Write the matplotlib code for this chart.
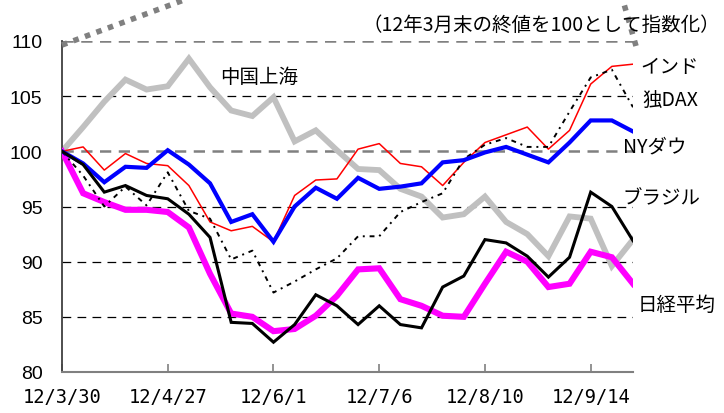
import matplotlib
matplotlib.use("Agg")
import matplotlib.pyplot as plt
from matplotlib.lines import Line2D

plt.rcParams['font.family'] = ['Noto Sans CJK JP', 'DejaVu Sans']

tick_labels = ["12/3/30", "12/4/27", "12/6/1", "12/7/6", "12/8/10", "12/9/14"]
tick_index = [0, 5, 10, 15, 20, 25]

china = [100, 102.2, 104.5, 106.5, 105.6, 105.9, 108.4, 105.8, 103.7, 103.2, 104.9, 100.9,
         101.9, 100.1, 98.4, 98.3, 96.6, 95.9, 94.0, 94.3, 95.9, 93.6, 92.5, 90.5, 94.1, 93.9,
         89.6, 92.0]
nydow = [100, 98.9, 97.2, 98.6, 98.5, 100.1, 98.8, 97.1, 93.6, 94.3, 91.8, 95.0, 96.7,
         95.7, 97.6, 96.6, 96.8, 97.1, 99.0, 99.2, 99.9, 100.4, 99.7, 99.0, 100.8, 102.8,
         102.8, 101.8]
india = [100, 100.4, 98.3, 99.8, 98.9, 98.7, 96.9, 93.6, 92.8, 93.2, 91.8, 96.0, 97.4, 97.5,
         100.2, 100.7, 98.9, 98.6, 96.9, 99.0, 100.8, 101.5, 102.2, 100.2, 101.9, 106.1,
         107.7, 107.9]
dax = [100, 97.8, 95.0, 96.8, 95.1, 98.1, 94.6, 93.9, 90.2, 91.0, 87.2, 88.2, 89.3, 90.3,
       92.3, 92.3, 94.5, 95.4, 96.2, 99.3, 100.6, 101.2, 100.4, 100.4, 103.6, 106.7, 107.4,
       104.0]
brazil = [100, 98.8, 96.3, 96.9, 96.0, 95.7, 94.3, 92.2, 84.5, 84.4, 82.7, 84.3, 87.0, 86.0,
          84.3, 86.0, 84.3, 84.0, 87.7, 88.7, 92.0, 91.7, 90.5, 88.6, 90.4, 96.3, 95.0, 91.9]
nikkei = [100, 96.2, 95.4, 94.7, 94.7, 94.5, 93.1, 88.9, 85.3, 85.0, 83.7, 83.9, 85.1, 86.9,
          89.3, 89.4, 86.6, 86.0, 85.1, 85.0, 88.0, 90.9, 90.0, 87.7, 88.0, 90.9, 90.4, 88.0]

W, H = 724, 414
fig = plt.figure(figsize=(W / 100, H / 100), dpi=100)
ax = fig.add_axes([62 / W, (H - 373) / H, (633 - 62) / W, (373 - 42) / H])

x = list(range(len(china)))

for yv in [85, 90, 95, 105]:
    ax.axhline(yv, color='black', lw=0.9, dashes=(7, 5), zorder=1)
for yv in [100, 110]:
    ax.axhline(yv, color='#808080', lw=1.8, dashes=(4.5, 3), zorder=1)

ax.plot(x, china, color='#C0C0C0', lw=4.2, zorder=2, solid_joinstyle='miter')
ax.plot(x, nikkei, color='#FF00FF', lw=4.4, zorder=3, solid_joinstyle='miter')
ax.plot(x, india, color='#FF0000', lw=1.1, zorder=4)
ax.plot(x, dax, color='black', lw=1.4, dashes=(2.5, 2.5, 1, 2.5), zorder=5)
ax.plot(x, nydow, color='#0000FF', lw=3.0, zorder=6, solid_joinstyle='miter')
ax.plot(x, brazil, color='black', lw=2.2, zorder=7, solid_joinstyle='miter')

ax.set_xlim(0, len(china) - 1)
ax.set_ylim(80, 110)
ax.set_yticks([80, 85, 90, 95, 100, 105, 110])
ax.set_xticks(tick_index)
ax.set_xticklabels(tick_labels, family='DejaVu Sans Mono', fontsize=13.5)
ax.tick_params(axis='y', length=0, pad=14, labelsize=14)
ax.tick_params(axis='x', direction='in', length=6, color='#808080', width=1.2,
               pad=11)
for lab in ax.get_yticklabels():
    lab.set_family(['Liberation Sans', 'DejaVu Sans'])
for s in ['top', 'right']:
    ax.spines[s].set_visible(False)
ax.spines['left'].set_color('#404040')
ax.spines['left'].set_linewidth(1.3)
ax.spines['bottom'].set_color('#808080')
ax.spines['bottom'].set_linewidth(1.5)

def fx(px):
    return px / W

def fy(py):
    return (H - py) / H

# dotted callout lines
fig.add_artist(Line2D([fx(62), fx(192)], [fy(46), fy(-2)], color='#808080', lw=4,
                      dashes=(1, 1.2), transform=fig.transFigure))
fig.add_artist(Line2D([fx(636), fx(622)], [fy(47), fy(-2)], color='#808080', lw=4,
                      dashes=(1, 1.2), transform=fig.transFigure))

fs = 14
fig.text(fx(362), fy(25), "（12年3月末の終値を100として指数化）", fontsize=fs,
         va='center', ha='left')
fig.text(fx(220), fy(77), "中国上海", fontsize=fs, va='center', ha='left')
fig.text(fx(640), fy(68), "インド", fontsize=fs, va='center', ha='left')
fig.text(fx(642), fy(100), "独DAX", fontsize=fs, va='center', ha='left')
fig.text(fx(623), fy(147), "NYダウ", fontsize=fs, va='center', ha='left')
fig.text(fx(622), fy(199), "ブラジル", fontsize=fs, va='center', ha='left')
fig.text(fx(638), fy(305), "日経平均", fontsize=fs, va='center', ha='left')

fig.savefig("out.png", dpi=100)
